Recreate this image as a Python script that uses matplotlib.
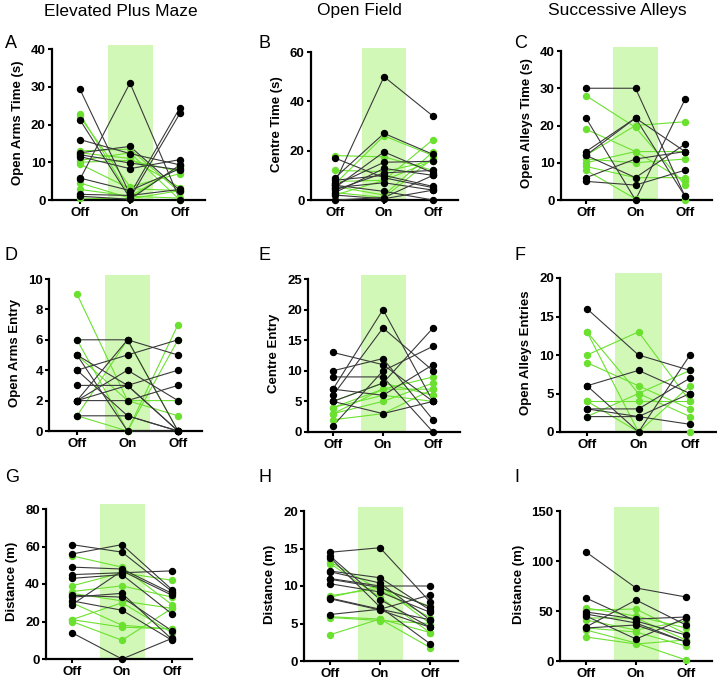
import numpy as np
import matplotlib
matplotlib.use('Agg')
import matplotlib.pyplot as plt

plt.rcParams['font.family'] = ['Liberation Sans', 'DejaVu Sans']

conds = ["Off", "On", "Off"]
titles = ["Elevated Plus Maze", "Open Field", "Successive Alleys"]
letters = ["A", "B", "C", "D", "E", "F", "G", "H", "I"]
ylabels = ["Open Arms Time (s)", "Centre Time (s)", "Open Alleys Time (s)",
           "Open Arms Entry", "Centre Entry", "Open Alleys Entries",
           "Distance (m)", "Distance (m)", "Distance (m)"]
yticks = [[0, 10, 20, 30, 40], [0, 20, 40, 60], [0, 10, 20, 30, 40],
          [0, 2, 4, 6, 8, 10], [0, 5, 10, 15, 20, 25], [0, 5, 10, 15, 20],
          [0, 20, 40, 60, 80], [0, 5, 10, 15, 20], [0, 50, 100, 150]]

# each row: [Off, On, Off]
black_A = [[5.5, 31, 0], [29.3, 1.5, 24.5], [21.2, 0.5, 23], [16, 12.3, 9.3], [12.5, 14.2, 2.5],
           [12, 9.8, 8], [11.5, 8.3, 10.7], [5.8, 2.5, 8.3], [1.5, 1.2, 2.8], [1, 0.2, 9.3]]
green_A = [[22.7, 1, 8.8], [22, 3.5, 7], [13, 13.5, 2], [12.5, 11, 3.3], [10.5, 12.5, 0],
           [10, 10.5, 7.5], [9.5, 3, 2.5], [4.5, 0.5, 9], [2.8, 1, 0.5], [0.5, 0.3, 2.5]]

black_B = [[7, 50, 34], [9, 27, 18.5], [5, 19.5, 11], [6, 15.3, 15.7], [3, 12.8, 10], [4, 11, 12],
           [8, 10, 5.5], [17, 9, 5], [5, 7, 4], [6, 3.5, 0], [0, 1, 10], [2, 0.5, 4]]
green_B = [[6.5, 26, 18], [18, 17.5, 12], [12, 11.5, 16], [2, 8, 24.5], [5.5, 2, 19.5],
           [3, 1, 17], [7.5, 8, 16]]

black_C = [[30, 30, 1], [22, 0, 27], [13, 22, 1], [12, 22, 13], [12, 6, 15], [6, 11, 13], [5, 4, 8]]
green_C = [[28, 19.5, 4], [19, 13, 5], [12, 20, 21], [11, 10, 11], [10, 13, 13], [9, 6, 6], [8, 0.3, 0]]

black_D = [[6, 6, 5], [5, 3, 0], [4, 5, 6], [3, 3, 0], [2, 6, 0], [2, 4, 2], [2, 2, 3],
           [4, 1, 0], [1, 1, 0], [5, 0, 0], [2, 3, 4]]
green_D = [[9, 2, 2], [6, 0, 7], [5, 2, 1], [1, 6, 0], [1, 0, 6]]

black_E = [[7, 20, 5], [6, 17, 10], [13, 11, 5], [10, 12, 2], [9, 9, 0], [5, 8, 17],
           [1, 10, 14], [7, 6, 11], [5, 3, 5]]
green_E = [[4, 7, 9], [3, 5, 8], [2, 3, 7], [5, 8, 6], [4, 6, 5], [3, 7, 7]]

black_F = [[16, 10, 8], [6, 8, 5], [6, 0, 10], [3, 3, 7], [2, 2, 1], [3, 2, 5]]
green_F = [[10, 13, 4], [13, 5, 2], [9, 6, 3], [4, 4, 4], [4, 0, 0], [2, 5, 8], [13, 0, 6]]

black_G = [[61, 57, 36], [56, 61, 37], [49, 48, 35], [45, 46, 47], [43, 45, 24], [34, 33, 15],
           [33, 35, 10.5], [31, 26, 10], [29, 47, 34], [14, 0, 11]]
green_G = [[55, 49, 29], [39, 46, 42], [36, 39, 33], [35, 31, 27], [30, 18, 16], [21, 30, 14],
           [20, 10, 27], [21, 17, 16]]

black_H = [[14.5, 15.1, 7.9], [14, 8.2, 4.5], [13.8, 7.2, 2.3], [12, 11.1, 6.8], [11.9, 10.4, 5.5],
           [11, 10, 10], [10.9, 9.8, 7.2], [10.3, 9.2, 6.5], [8.4, 6.9, 8.8], [8.3, 6.8, 4.5],
           [6.2, 6.9, 5.5]]
green_H = [[13.2, 9.5, 5.8], [13, 8.5, 3.8], [8.7, 9.7, 7.3], [8.5, 10, 5], [5.9, 5.6, 1.8],
           [5.8, 5.4, 5], [3.5, 5.6, 3.8]]

black_I = [[109, 73, 64], [63, 40, 26], [49, 42, 44], [47, 38, 19], [45, 22, 43], [34, 61, 36], [33, 36, 19]]
green_I = [[53, 45, 33], [51, 52, 27], [43, 43, 21], [41, 31, 40], [33, 29, 15], [31, 18, 1], [24, 17, 21]]

blacks = [black_A, black_B, black_C, black_D, black_E, black_F, black_G, black_H, black_I]
greens = [green_A, green_B, green_C, green_D, green_E, green_F, green_G, green_H, green_I]

# layout in pixels: left, right, x of first Off, spacing, y of zero, y of top tick, y of band top
px = [(52, 205, 80, 50, 200, 49, 45), (311, 458, 335, 49, 200, 52, 48), (561, 712, 586, 49.5, 200, 51, 47),
      (49, 202, 77, 50.5, 431, 279, 275), (308, 460, 333, 50, 432, 279, 275), (560, 717, 587, 51.5, 432, 278, 273),
      (46, 192, 72, 50, 659, 509, 504), (304, 458, 330, 50, 661, 511, 507), (560, 712, 586, 50, 661, 511, 507)]

W, H = 717, 681
GREEN = '#6be12f'
BAND = '#d2f8b8'
fig = plt.figure(figsize=(W / 100, H / 100), dpi=100)

for i in range(9):
    L, R, x0, sp, y0, yt, yb = px[i]
    ax = fig.add_axes([L / W, 1 - y0 / H, (R - L) / W, (y0 - yb) / H])
    top = yticks[i][-1]
    ax.set_ylim(0, top * (y0 - yb) / (y0 - yt))
    ax.set_xlim(-(x0 - L) / sp, (R - x0) / sp)
    ax.axvspan(0.55, 1.45, color=BAND, lw=0, zorder=0)
    x = np.arange(3)
    for s in greens[i]:
        ax.plot(x, s, '-', color=GREEN, lw=0.8, zorder=2, clip_on=False)
        ax.plot(x, s, 'o', color=GREEN, ms=4.3, zorder=4, clip_on=False)
    for s in blacks[i]:
        ax.plot(x, s, '-', color='#3a3a3a', lw=0.8, zorder=3, clip_on=False)
        ax.plot(x, s, 'o', color='black', ms=4.3, zorder=5, clip_on=False)
    for side in ['top', 'right']:
        ax.spines[side].set_visible(False)
    ax.spines['left'].set_bounds(0, top)
    ax.spines['left'].set_linewidth(1.6)
    ax.spines['bottom'].set_linewidth(1.6)
    ax.set_yticks(yticks[i])
    ax.set_xticks(x)
    ax.set_xticklabels(conds)
    ax.tick_params(axis='y', width=1.5, length=3, pad=1.5, labelsize=9.5)
    ax.tick_params(axis='x', width=1.5, length=3, pad=2, labelsize=9.5)
    for lab in ax.get_xticklabels() + ax.get_yticklabels():
        lab.set_fontweight('bold')
    ax.set_ylabel(ylabels[i], fontsize=9.5, fontweight='bold', labelpad=5)

# column titles and panel letters
for c, t in enumerate(titles):
    fig.text([121, 359, 617][c] / W, 1 - 11 / H, t, ha='center', va='center', fontsize=12.5)
lx = [5, 258, 514]
ly = [44, 255, 477]
for k, let in enumerate(letters):
    fig.text(lx[k % 3] / W, 1 - ly[k // 3] / H, let, ha='left', va='center', fontsize=13)

fig.savefig('out.png', dpi=100)
